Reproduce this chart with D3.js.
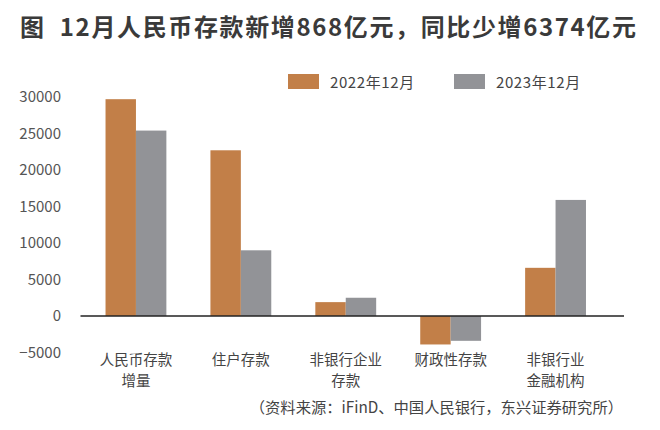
<!DOCTYPE html>
<html>
<head>
<meta charset="utf-8">
<script src="https://cdn.jsdelivr.net/npm/d3@7"></script>
<style>
  html, body { margin: 0; padding: 0; background: #fff; }
  svg { display: block; font-family: "Noto Sans CJK SC", "Noto Sans", sans-serif; }
</style>
</head>
<body>
<svg id="chart" width="660" height="430"></svg>
<script>
const categories = [["人民币存款", "增量"], ["住户存款"], ["非银行企业", "存款"], ["财政性存款"], ["非银行业", "金融机构"]];
const seriesNames = ["2022年12月", "2023年12月"];
const values2022 = [29700, 22700, 1900, -3900, 6600];
const values2023 = [25400, 9000, 2500, -3400, 15900];
const yTicks = [-5000, 0, 5000, 10000, 15000, 20000, 25000, 30000];
const colors = ["#C27F48", "#929397"];
const titleText = "图  12月人民币存款新增868亿元，同比少增6374亿元";
const sourceText = "（资料来源：iFinD、中国人民银行，东兴证券研究所）";

const svg = d3.select("#chart");
const catKeys = categories.map(c => c.join(""));
const seriesValues = [values2022, values2023];

const x0 = d3.scaleBand().domain(catKeys).range([83.5, 608]).paddingInner(0.42).paddingOuter(0.21);
const x1 = d3.scaleBand().domain(seriesNames).range([0, x0.bandwidth()]);
const y = d3.scaleLinear().domain([-5000, 30000]).range([352.5, 97]);

// title
svg.append("text").attr("x", 20).attr("y", 36)
  .attr("font-size", 24).attr("font-weight", "bold").attr("fill", "#3a3a3a")
  .attr("textLength", 616).attr("lengthAdjust", "spacing")
  .attr("xml:space", "preserve").style("white-space", "pre")
  .text(titleText);

// y axis labels
const yAxis = d3.axisLeft(y).tickValues(yTicks).tickSize(0).tickPadding(0).tickFormat(d3.format("d"));
const yg = svg.append("g").attr("transform", "translate(61,0)").call(yAxis);
yg.select(".domain").remove();
yg.selectAll("text").attr("font-size", 15).attr("fill", "#555").attr("font-family", "\"Noto Sans CJK SC\", sans-serif");

// bars
const groups = svg.append("g").selectAll("g").data(catKeys).join("g")
  .attr("transform", d => `translate(${x0(d)},0)`);
groups.selectAll("rect").data((d, i) => seriesNames.map((s, j) => ({ s, v: seriesValues[j][i], j })))
  .join("rect")
  .attr("x", d => x1(d.s))
  .attr("width", x1.bandwidth())
  .attr("y", d => y(Math.max(0, d.v)))
  .attr("height", d => Math.abs(y(d.v) - y(0)))
  .attr("fill", d => colors[d.j]);

// zero line
svg.append("line").attr("x1", 80.5).attr("x2", 624).attr("y1", y(0)).attr("y2", y(0))
  .attr("stroke", "#222").attr("stroke-width", 1.3);

// category labels
const catG = svg.append("g");
categories.forEach((lines, i) => {
  const cx = x0(catKeys[i]) + x0.bandwidth() / 2;
  lines.forEach((ln, k) => {
    catG.append("text").attr("text-anchor", "middle").attr("font-size", 14.5).attr("fill", "#444")
      .attr("x", cx).attr("y", 365 + k * 20.5).text(ln);
  });
});

// legend
const legendX = [288, 454];
seriesNames.forEach((s, j) => {
  svg.append("rect").attr("x", legendX[j]).attr("y", 74).attr("width", 31).attr("height", 15).attr("fill", colors[j]);
  svg.append("text").attr("x", legendX[j] + 42).attr("y", 87.5)
    .attr("font-size", 15).attr("fill", "#444").attr("letter-spacing", 0.6).text(s);
});

// source
svg.append("text").attr("x", 623).attr("y", 413).attr("text-anchor", "end")
  .attr("font-size", 15.3).attr("fill", "#444").text(sourceText);
</script>
</body>
</html>
